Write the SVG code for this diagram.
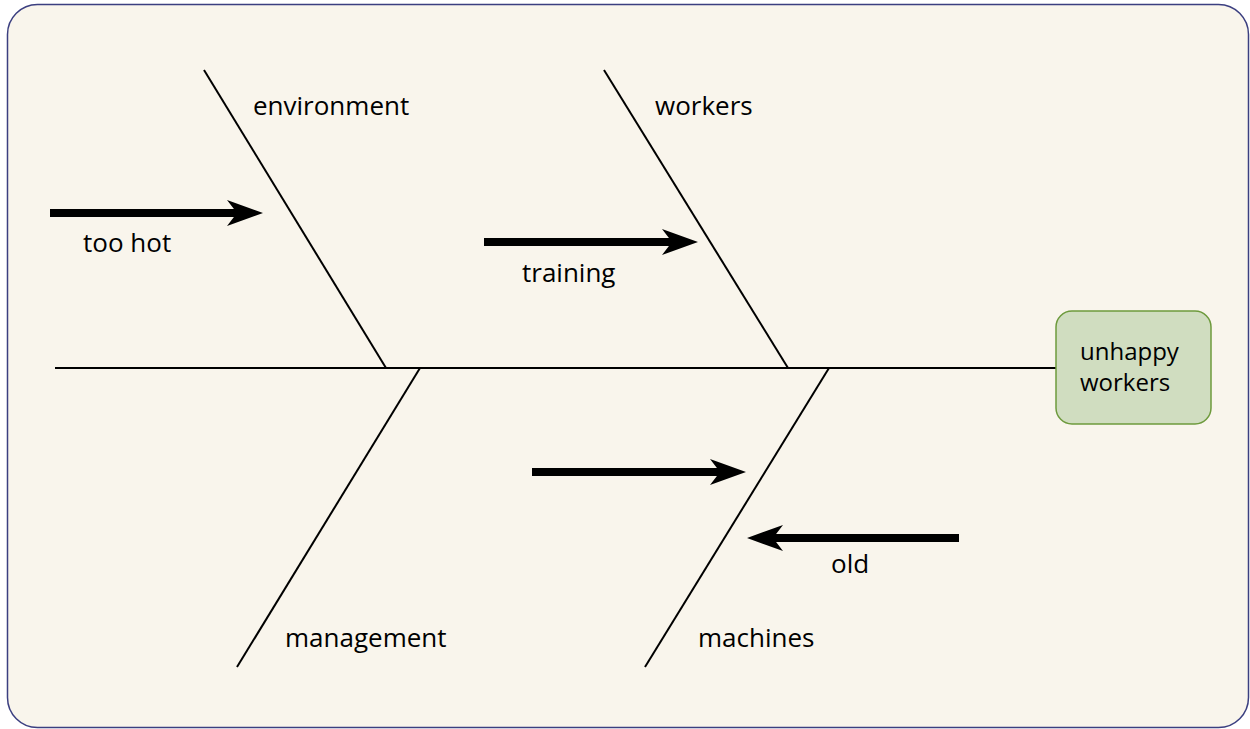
<svg xmlns="http://www.w3.org/2000/svg" width="1250" height="729" viewBox="0 0 1250 729">
  <style>
    .bone { stroke: #000; stroke-width: 2; fill: none; }
    .arrow { stroke: #000; stroke-width: 8; fill: none; marker-end: url(#head); }
    .lbl { font-family: "Open Sans", "Noto Sans", sans-serif; font-size: 26px; fill: #000; }
    .nlbl { font-family: "Open Sans", "Noto Sans", sans-serif; font-size: 24px; fill: #000; }
  </style>
  <defs>
    <marker id="head" markerUnits="userSpaceOnUse" markerWidth="36" markerHeight="26" viewBox="0 0 36 26" refX="10" refY="13" orient="auto">
      <path d="M36,13 L0,0 L10,13 L0,26 Z" fill="#000"/>
    </marker>
  </defs>
  <rect x="7.5" y="4.5" width="1241" height="723" rx="30" ry="30" fill="#f9f5ec" stroke="#3b3f80" stroke-width="1.5"/>
  <g id="connectors">
    <line class="bone" x1="55" y1="368" x2="1056" y2="368"/>
    <line class="bone" x1="204" y1="70" x2="386" y2="368"/>
    <line class="bone" x1="604" y1="70" x2="788" y2="368"/>
    <line class="bone" x1="420" y1="368" x2="237" y2="667"/>
    <line class="bone" x1="829" y1="368" x2="645" y2="667"/>
    <line class="arrow" x1="50" y1="213" x2="237" y2="213"/>
    <line class="arrow" x1="484" y1="242" x2="672" y2="242"/>
    <line class="arrow" x1="532" y1="472" x2="720" y2="472"/>
    <line class="arrow" x1="959" y1="538" x2="773" y2="538"/>
  </g>
  <g id="labels">
    <text class="lbl" x="253" y="115">environment</text>
    <text class="lbl" x="655" y="115">workers</text>
    <text class="lbl" x="285" y="647">management</text>
    <text class="lbl" x="698" y="647">machines</text>
    <text class="lbl" x="83" y="252">too hot</text>
    <text class="lbl" x="522" y="282">training</text>
    <text class="lbl" x="831" y="573">old</text>
  </g>
  <g id="node-unhappy-workers">
    <rect x="1056" y="311" width="155" height="113" rx="16" ry="16" fill="#d0ddc0" stroke="#6d9a3c" stroke-width="1.5"/>
    <text class="nlbl" x="1080" y="360">unhappy</text>
    <text class="nlbl" x="1080" y="391">workers</text>
  </g>
</svg>
